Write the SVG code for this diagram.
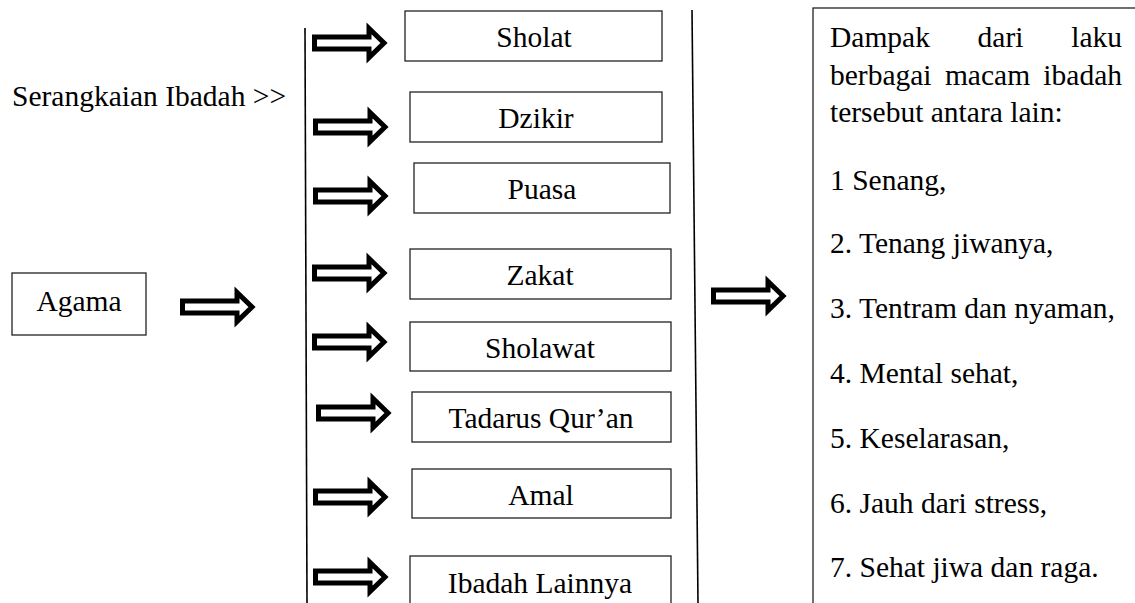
<svg xmlns="http://www.w3.org/2000/svg" width="1135" height="603" viewBox="0 0 1135 603">
<style>
text{font-family:"Liberation Serif","Times New Roman",serif;font-size:29.5px;fill:#000}
.box{fill:#fff;stroke:#222;stroke-width:1.3}
.c{text-anchor:middle}
.e{text-anchor:end}
.arr{fill:#fff;stroke:#000;stroke-width:5;stroke-linejoin:miter}
.vl{stroke:#000;stroke-width:1.6;fill:none}
</style>
<defs>
<path id="ar" class="arr" d="M2.5,-6 H57 V-14.5 L72,0 L57,14.5 V6 H2.5 Z"/>
</defs>
<rect width="1135" height="603" fill="#fff"/>
<g id="connectors">
<line class="vl" x1="305" y1="28" x2="307" y2="603"/>
<line class="vl" x1="692" y1="10" x2="698" y2="603"/>
<use href="#ar" x="312" y="43"/>
<use href="#ar" x="313" y="127"/>
<use href="#ar" x="313" y="196"/>
<use href="#ar" x="312" y="273"/>
<use href="#ar" x="312" y="342"/>
<use href="#ar" x="316" y="413"/>
<use href="#ar" x="313" y="497"/>
<use href="#ar" x="313" y="577"/>
<use href="#ar" x="180" y="307"/>
<use href="#ar" x="711" y="296"/>
</g>
<g id="serangkaian">
<text x="12" y="106">Serangkaian Ibadah &gt;&gt;</text>
</g>
<g id="agama">
<rect class="box" x="12" y="273" width="134" height="62"/>
<text class="c" x="79" y="311">Agama</text>
</g>
<g id="sholat">
<rect class="box" x="405" y="11" width="257" height="50"/>
<text class="c" x="534" y="47">Sholat</text>
</g>
<g id="dzikir">
<rect class="box" x="410" y="92" width="252" height="50"/>
<text class="c" x="536" y="128">Dzikir</text>
</g>
<g id="puasa">
<rect class="box" x="414" y="163" width="256" height="50"/>
<text class="c" x="542" y="199">Puasa</text>
</g>
<g id="zakat">
<rect class="box" x="410" y="249" width="261" height="50"/>
<text class="c" x="540" y="285">Zakat</text>
</g>
<g id="sholawat">
<rect class="box" x="410" y="322" width="261" height="49"/>
<text class="c" x="540" y="358">Sholawat</text>
</g>
<g id="tadarus">
<rect class="box" x="412" y="392" width="259" height="50"/>
<text class="c" x="541" y="428">Tadarus Qur’an</text>
</g>
<g id="amal">
<rect class="box" x="412" y="469" width="259" height="49"/>
<text class="c" x="541" y="505">Amal</text>
</g>
<g id="ibadah-lainnya">
<rect class="box" x="410" y="556" width="261" height="60"/>
<text class="c" x="540" y="593">Ibadah Lainnya</text>
</g>
<g id="dampak">
<rect class="box" x="813" y="8" width="340" height="610"/>
<text x="830" y="47">Dampak</text>
<text class="c" x="1000.5" y="47">dari</text>
<text class="e" x="1122" y="47">laku</text>
<text x="830" y="85">berbagai</text>
<text class="c" x="987.5" y="85">macam</text>
<text class="e" x="1122" y="85">ibadah</text>
<text x="830" y="122">tersebut antara lain:</text>
<text x="830" y="190">1 Senang,</text>
<text x="830" y="253">2. Tenang jiwanya,</text>
<text x="830" y="318">3. Tentram dan nyaman,</text>
<text x="830" y="383">4. Mental sehat,</text>
<text x="830" y="448">5. Keselarasan,</text>
<text x="830" y="513">6. Jauh dari stress,</text>
<text x="830" y="577">7. Sehat jiwa dan raga.</text>
</g>
</svg>
